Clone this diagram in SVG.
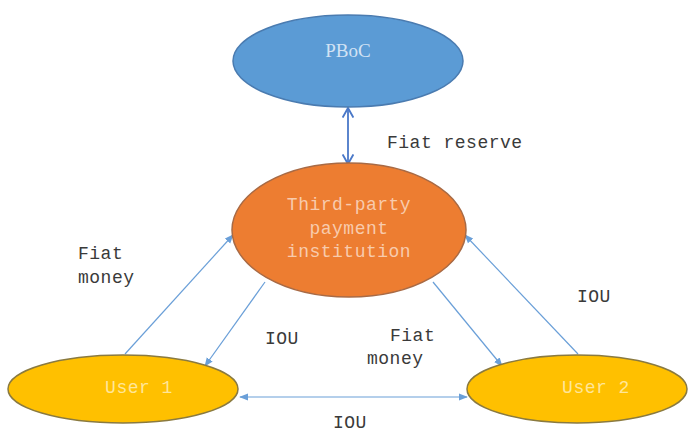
<svg xmlns="http://www.w3.org/2000/svg" width="689" height="433" viewBox="0 0 689 433">
<style>
.lbl{font-family:"Liberation Mono","DejaVu Sans Mono",monospace;font-size:18px;fill:#3a3a3a;letter-spacing:0.5px}
.nt{font-family:"Liberation Mono","DejaVu Sans Mono",monospace;font-size:18px;letter-spacing:0.5px;text-anchor:middle;dominant-baseline:central}
.edge{fill:none;stroke:#6A9FD8;stroke-width:1.2}
</style>
<defs>
<marker id="tri" viewBox="0 0 10 10" refX="9" refY="5" markerWidth="9" markerHeight="9" markerUnits="userSpaceOnUse" orient="auto">
<path d="M0,1 L10,5 L0,9 Z" fill="#6A9FD8"/>
</marker>
<marker id="tris" viewBox="0 0 10 10" refX="9" refY="5" markerWidth="9" markerHeight="9" markerUnits="userSpaceOnUse" orient="auto-start-reverse">
<path d="M0,1 L10,5 L0,9 Z" fill="#6A9FD8"/>
</marker>
<marker id="vee" viewBox="0 0 10 10" refX="9" refY="5" markerWidth="12" markerHeight="12" markerUnits="userSpaceOnUse" orient="auto-start-reverse">
<path d="M1,0.5 L9,5 L1,9.5" fill="none" stroke="#4A78C8" stroke-width="1.6"/>
</marker>
</defs>
<rect width="689" height="433" fill="#ffffff"/>
<g id="connectors">
<line x1="348" y1="108" x2="348" y2="164" stroke="#4A78C8" stroke-width="1.8" marker-start="url(#vee)" marker-end="url(#vee)"/>
<line class="edge" x1="125" y1="354" x2="233" y2="235" marker-end="url(#tri)"/>
<line class="edge" x1="265" y1="282" x2="205" y2="366" marker-end="url(#tri)"/>
<line class="edge" x1="433" y1="282" x2="502" y2="366" marker-end="url(#tri)"/>
<line class="edge" x1="578" y1="354" x2="465" y2="235" marker-end="url(#tri)"/>
<line class="edge" x1="240" y1="397" x2="467" y2="397" marker-start="url(#tris)" marker-end="url(#tris)"/>
</g>
<g id="pboc">
<ellipse cx="348" cy="61" rx="115" ry="46" fill="#5B9BD5" stroke="#4A7BB0" stroke-width="1.5"/>
<text x="348" y="50" text-anchor="middle" dominant-baseline="central" font-family="Liberation Serif,serif" font-size="19" fill="#D2E2F4">PBoC</text>
</g>
<g id="third-party">
<ellipse cx="349" cy="230" rx="117" ry="67" fill="#ED7D31" stroke="#A86A45" stroke-width="1.5"/>
<text class="nt" x="349" y="205" fill="#F8CBAD">Third-party</text>
<text class="nt" x="349" y="229" fill="#F8CBAD">payment</text>
<text class="nt" x="349" y="252" fill="#F8CBAD">institution</text>
</g>
<g id="user1">
<ellipse cx="123" cy="389" rx="115" ry="34" fill="#FFC000" stroke="#8A7A40" stroke-width="1.5"/>
<text class="nt" x="139" y="388" fill="#FFE699">User 1</text>
</g>
<g id="user2">
<ellipse cx="577" cy="389" rx="110" ry="34" fill="#FFC000" stroke="#8A7A40" stroke-width="1.5"/>
<text class="nt" x="596" y="388" fill="#FFE699">User 2</text>
</g>
<g id="labels">
<text class="lbl" x="387" y="148">Fiat reserve</text>
<text class="lbl" x="78" y="259">Fiat</text>
<text class="lbl" x="78" y="283">money</text>
<text class="lbl" x="265" y="344">IOU</text>
<text class="lbl" x="390" y="341">Fiat</text>
<text class="lbl" x="367" y="364">money</text>
<text class="lbl" x="577" y="302">IOU</text>
<text class="lbl" x="333" y="428">IOU</text>
</g>
</svg>
